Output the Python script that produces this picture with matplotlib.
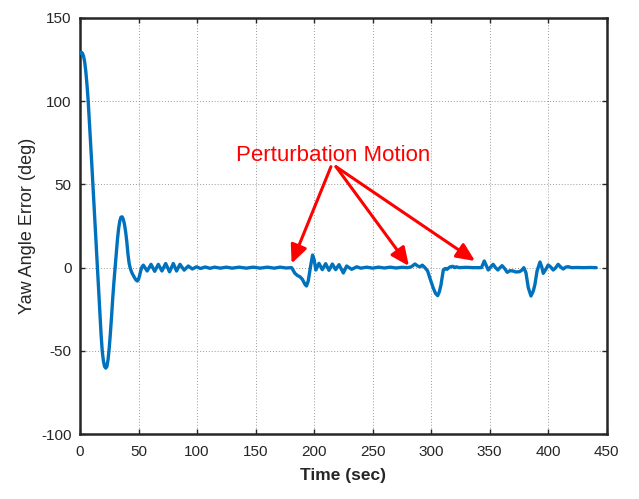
import matplotlib
matplotlib.use("Agg")
import matplotlib.pyplot as plt

plt.rcParams['font.family'] = ['Liberation Sans', 'DejaVu Sans']

# ---- data ----
time_sec = [
    0, 1, 2, 3, 4, 5, 6, 7, 8, 9, 10, 11, 12, 13, 14, 15, 16, 17, 18, 19,
    20, 21, 22, 23, 24, 25, 26, 27, 28, 29, 30, 31, 32, 33, 34, 35, 36, 37,
    38, 39, 40, 41, 42, 43, 44, 45, 46, 47, 48, 49, 50, 51, 52, 53, 54.1,
    57.4, 60.7, 63.8, 66.9, 70, 73.2, 76.5, 79.7, 82.5, 85.4, 89, 92.5, 96,
    99.5, 103, 107, 111, 115, 120, 125, 130, 136, 142, 148, 154, 160, 166,
    171, 176, 180.8,
    183.6, 186, 188, 190, 192.2, 193.5, 195, 196.8, 198.7, 200, 201.5, 204.2,
    207, 209.9, 212.7, 215.6, 218.4, 221.3, 225, 227.8, 232.1, 236.4, 240,
    245, 250, 255, 260, 265, 270, 275, 280,
    283, 286.2, 288.5, 290.5, 292.5, 294.7, 297, 299, 301.9, 303.8, 305.6,
    307, 308.4, 310.4, 312, 313.5, 316, 318.5, 320, 321.5, 324, 330, 336, 343,
    345.4, 347, 348.8, 351, 353, 355, 357, 358.8, 360.6, 362.8, 365, 367.5,
    369.8, 372.5, 375.5, 377.5, 379.2, 381, 383, 385.3, 387.3, 388.7, 390.5,
    393, 394.5, 395.8, 398, 400, 402, 404.3, 406.5, 408.5, 410.5, 412.8, 415,
    417, 420, 425, 430, 436, 441,
]
yaw_error_deg = [
    128.5, 129.3, 128.8, 127, 123.5, 117.5, 109.5, 100, 88, 76, 63, 50, 37,
    24, 11, -2, -15, -28, -40, -50, -56, -59.3, -60.3, -59.3, -55, -48, -39,
    -29, -18, -8.5, 0, 9, 17, 23.5, 28, 30.3, 30.5, 29, 26, 21.5, 15.5, 8,
    2.5, -0.5, -2.5, -4, -5.3, -6.5, -7.5, -8, -7, -4.5, -1.5, 0.5, 1.5,
    -2, 2, -2.2, 2, -2, 2.5, -2.5, 2.5, -2, 2, -1.5, 1, -0.8,
    0.5, -0.5, 0.4, -0.4, 0.3, -0.3, 0.3, -0.3, 0.3, -0.3, 0.3, -0.3, 0.3,
    -0.3, 0.3, -0.2, 0,
    -3.4, -4.8, -5.5, -7, -10, -11, -8, 0, 7.6, 5, -1.4, 2.6,
    -1.2, 2.4, -1.6, 2.2, -1.2, 1.8, -3.2, 1, -1, 0.5, -0.3,
    0.3, -0.3, 0.3, -0.2, 0.3, -0.2, 0.2, 0,
    0.5, 2.2, 1, 0.5, 1.5, 0, -2, -6.4, -12.4, -15.5, -16.8,
    -14.5, -10.4, -1.4, -0.5, -1, 0.4, 0.8, 0, 0.5, 0, 0.2, 0, 0,
    4, 1.5, -1.4, 0.5, 2, 0, -1.4, 0, 1.2, -0.5, -2.8, -1.8,
    -2, -2.6, -2.4, -1.5, 0, -3, -12, -17, -14, -10, -2,
    3.4, 0.5, -3.4, -1, 1.6, 0.5, -1.4, 0, 2, 0.5, -0.8, 0.3,
    0.6, 0, 0.1, 0, 0.1, 0,
]

annotation_text = "Perturbation Motion"
arrow_tip_t = [180.8, 281.0, 337.5]
arrow_tip_y = [2.5, 1.0, 4.0]
arrow_tail_t = [214.4, 218.7, 218.7]
arrow_tail_y = [60.6, 60.6, 60.6]

x_ticks = [0, 50, 100, 150, 200, 250, 300, 350, 400, 450]
y_ticks = [-100, -50, 0, 50, 100, 150]

# ---- figure ----
fig = plt.figure(figsize=(6.39, 4.99), dpi=100)
ax = fig.add_axes([80 / 639, 1 - 434.3 / 499, 526.7 / 639, 416.6 / 499])

axc = '#262626'
ax.plot(time_sec, yaw_error_deg, color='#0072BD', lw=2.4,
        solid_joinstyle='round', solid_capstyle='round', zorder=3)

ax.set_xlim(0, 450)
ax.set_ylim(-100, 150)
ax.set_xticks(x_ticks)
ax.set_yticks(y_ticks)
ax.set_xticklabels([str(v) for v in x_ticks])
ax.set_yticklabels([str(v) for v in y_ticks])

ax.grid(True, color='#9a9a9a', linestyle=(0, (1, 2)), linewidth=0.7)
ax.set_axisbelow(True)

for s in ax.spines.values():
    s.set_color(axc)
    s.set_linewidth(1.8)

ax.tick_params(axis='both', direction='in', length=3.5, width=1.0,
               colors=axc, labelsize=11, top=True, right=True)
ax.tick_params(axis='x', pad=8)
ax.tick_params(axis='y', pad=6)

ax.set_xlabel('Time (sec)', fontsize=12.5, fontweight='bold', color=axc,
              labelpad=6)
ax.set_ylabel('Yaw Angle Error (deg)', fontsize=13, color=axc, labelpad=4)

ax.text(216.0, 64.0, annotation_text, color='red', fontsize=16,
        ha='center', va='baseline', zorder=5)
for tx, ty, sx, sy in zip(arrow_tip_t, arrow_tip_y, arrow_tail_t, arrow_tail_y):
    ax.annotate('', xy=(tx, ty), xytext=(sx, sy),
                arrowprops=dict(arrowstyle='-|>,head_length=0.55,head_width=0.25',
                                color='red', lw=2.2, mutation_scale=20,
                                shrinkA=0, shrinkB=0),
                zorder=5)

fig.savefig('out.png', dpi=100)
